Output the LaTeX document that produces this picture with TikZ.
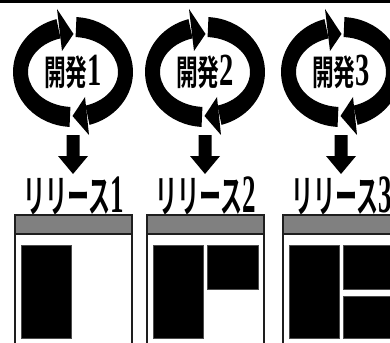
\documentclass[tikz,border=0pt]{standalone}
\usepackage{fontspec}
\newfontfamily\jpb{Noto Sans CJK JP Bold}
\newfontfamily\digf{Liberation Serif}
\definecolor{barG}{HTML}{808080}
\definecolor{edgeK}{HTML}{1E1E1E}
\tikzset{
  ring/.style={fill=black},
  blockarrow/.style={fill=black},
  devlabel/.style={inner sep=0pt, text=black},
  rellabel/.style={inner sep=0pt, text=black},
  winframe/.style={draw=edgeK, line width=1.8pt, fill=white},
  titlebar/.style={draw=edgeK, line width=2.2pt, fill=barG},
  pane/.style={fill=black, draw=black!70, line width=0.6pt}
}
\begin{document}
\begin{tikzpicture}[x=1pt,y=-1pt]
\useasboundingbox (0,0) rectangle (390,342);
\clip (0,0) rectangle (390,342);
\fill[black] (0,0) rectangle (390,3.5);
\foreach \cx/\n in {73/1,205/2,341/3}{
  \begin{scope}[shift={(\cx,72)}]
    % left arc, rising to the top
    \fill[ring] (93.3:60 and 55) arc[start angle=93.3,end angle=254,x radius=60,y radius=55]
      -- (254:45 and 35) arc[start angle=254,end angle=93.3,x radius=45,y radius=35] -- cycle;
    \fill[ring] (-16,-63) -- (0.5,-38) -- (-11,-21) -- cycle;
    % right arc, descending to the bottom
    \fill[ring] (-86.7:60 and 55) arc[start angle=-86.7,end angle=74,x radius=60,y radius=55]
      -- (74:45 and 35) arc[start angle=74,end angle=-86.7,x radius=45,y radius=35] -- cycle;
    \fill[ring] (16,63) -- (-0.5,44) -- (12,25) -- cycle;
    \node[devlabel] (dev\n) at (0,0) {\scalebox{0.62}[1]{\fontsize{35}{35}\selectfont\jpb 開発\fontsize{46}{46}\selectfont\digf\bfseries\n}};
  \end{scope}
  \begin{scope}[shift={(\cx,0)}]
    \coordinate (a\n) at (0,135);
    \fill[blockarrow] (-6.5,135) -- (6.5,135) -- (6.5,156) -- (15,156) -- (0,174)
      -- (-15,156) -- (-6.5,156) -- cycle;
    \node[rellabel] (rel\n) at (1,196) {\scalebox{0.5}[1]{\fontsize{44}{44}\selectfont\jpb リリース\fontsize{54}{54}\selectfont\digf\bfseries\n}};
    % window
    \draw[winframe] (-58,234) rectangle (59,360);
    \draw[titlebar] (-58,215) rectangle (59,234);
    \fill[pane] (-52,245) rectangle (-2,338);
  \end{scope}
}
\begin{scope}[shift={(205,0)}]
  \fill[pane] (2,245) rectangle (53,289);
\end{scope}
\begin{scope}[shift={(341,0)}]
  \fill[pane] (2,245) rectangle (53,289);
  \fill[pane] (2,296) rectangle (53,338);
\end{scope}
\end{tikzpicture}
\end{document}
